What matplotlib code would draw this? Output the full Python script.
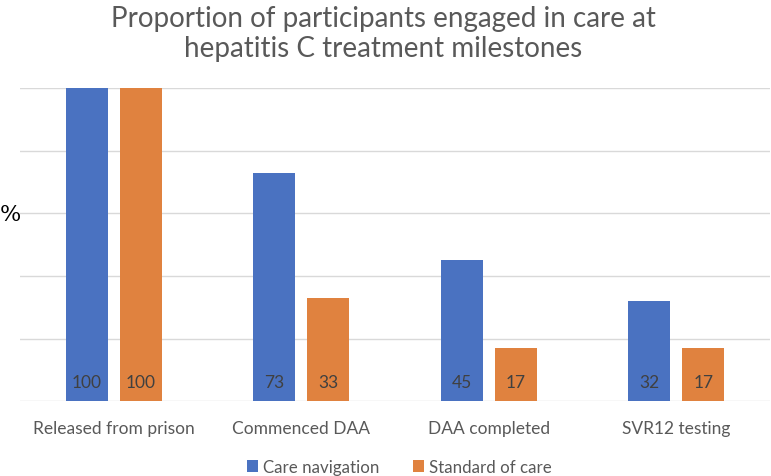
import numpy as np
import matplotlib.pyplot as plt

plt.rcParams['font.family'] = ['Lato', 'DejaVu Sans']

milestones = ['Released from prison', 'Commenced DAA', 'DAA completed', 'SVR12 testing']
care_nav = [100, 73, 45, 32]
standard = [100, 33, 17, 17]
series_names = ['Care navigation', 'Standard of care']

blue = '#4a72c1'
orange = '#e0823f'
grey_text = '#595959'

fig = plt.figure(figsize=(7.71, 4.77), dpi=100)
ax = fig.add_axes([0.026, 0.157, 0.973, 0.656])

x = np.arange(len(milestones))
w = 0.224
off = 0.144
b1 = ax.bar(x - off, care_nav, w, color=blue, label=series_names[0], zorder=3)
b2 = ax.bar(x + off, standard, w, color=orange, label=series_names[1], zorder=3)

# value labels sit at the bottom of each bar
for bars, vals in ((b1, care_nav), (b2, standard)):
    for rect, v in zip(bars, vals):
        ax.annotate(str(v), (rect.get_x() + rect.get_width() / 2, 0),
                    xytext=(0, 8), textcoords='offset points',
                    ha='center', va='bottom', fontsize=12.5, color='#404040', zorder=4)

ax.set_xlim(-0.5, len(milestones) - 0.5)
ax.set_ylim(0, 100)
ax.set_yticks(np.arange(0, 101, 20))
ax.yaxis.grid(True, color='#d9d9d9', linewidth=1.0, zorder=0)
ax.tick_params(axis='y', left=False, labelleft=False)
ax.tick_params(axis='x', bottom=False, pad=10, labelsize=12.5, labelcolor=grey_text)
ax.set_xticks(x)
ax.set_xticklabels(milestones)
for s in ax.spines.values():
    s.set_visible(False)

fig.text(0.0, 0.55, '%', fontsize=16, color='black', ha='left', va='center',
         family=['DejaVu Serif'])

fig.text(0.497, 0.928, 'Proportion of participants engaged in care at\nhepatitis C treatment milestones',
         ha='center', va='center', fontsize=20, color=grey_text, linespacing=1.2)

ax.legend(loc='upper center', bbox_to_anchor=(0.506, -0.136), ncol=2, frameon=False,
          fontsize=12.2, labelcolor=grey_text, handlelength=0.65, handleheight=0.65,
          handletextpad=0.3, columnspacing=2.0)

fig.savefig('out.png', dpi=100)
